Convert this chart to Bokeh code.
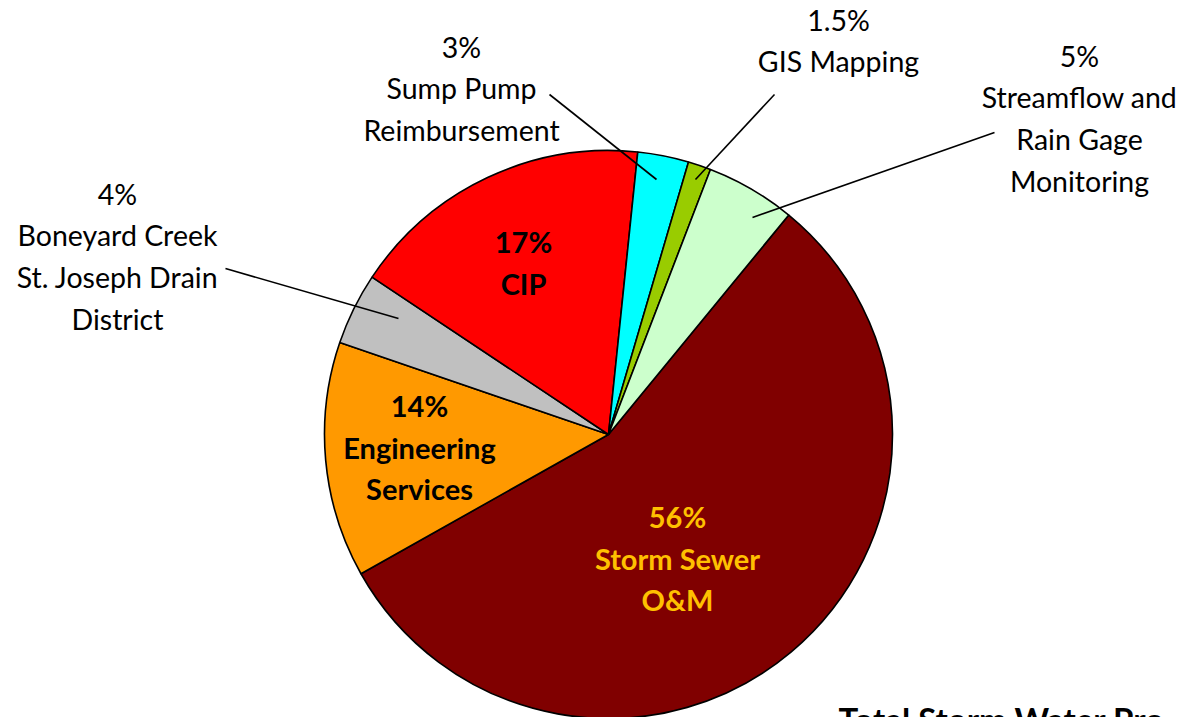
import numpy as np
from bokeh.plotting import figure
from bokeh.models import Range1d, ColumnDataSource
from bokeh.core.properties import value
from bokeh.embed import file_html
from bokeh.resources import INLINE

# ---- data (clockwise order) ----
categories = ["Storm Sewer O&M", "Engineering Services",
              "Boneyard Creek St. Joseph Drain District", "CIP",
              "Sump Pump Reimbursement", "GIS Mapping",
              "Streamflow and Rain Gage Monitoring"]
shares = [55.9, 13.4, 4.1, 17.3, 2.9, 1.3, 5.1]
pct_labels = ["56%", "14%", "4%", "17%", "3%", "1.5%", "5%"]
name_lines = [["Storm Sewer", "O&M"],
              ["Engineering", "Services"],
              ["Boneyard Creek", "St. Joseph Drain", "District"],
              ["CIP"],
              ["Sump Pump", "Reimbursement"],
              ["GIS Mapping"],
              ["Streamflow and", "Rain Gage", "Monitoring"]]
colors = ["#800000", "#FF9900", "#C0C0C0", "#FF0000", "#00FFFF", "#99CC00", "#CCFFCC"]
title_text = "Total Storm Water Pro"

# ---- layout (reference pixel coordinates, y downward) ----
W, H = 1186, 717
CX, CY, R = 608, 434, 284
START_DEG = 50.6
FONT = "Lato"

def fy(y):
    return H - y

p = figure(width=W, height=H, output_backend="svg", toolbar_location=None,
           x_range=Range1d(0, W), y_range=Range1d(0, H),
           min_border=0)
p.axis.visible = False
p.xgrid.visible = False
p.ygrid.visible = False
p.outline_line_color = None
p.background_fill_color = "white"
p.border_fill_color = "white"

vals = np.array(shares, dtype=float)
frac = vals / vals.sum()
ends_cum = np.cumsum(frac)
starts_cum = ends_cum - frac
a0 = np.deg2rad(START_DEG) - 2 * np.pi * starts_cum
a1 = np.deg2rad(START_DEG) - 2 * np.pi * ends_cum
src = ColumnDataSource(dict(start=a1, end=a0, color=colors, cat=categories))
p.wedge(x=CX, y=fy(CY), radius=R, start_angle="start", end_angle="end",
        direction="anticlock", fill_color="color", line_color="black",
        line_width=1.6, source=src)

# label placement: (center x, first line y, bold, color)
label_pos = [(677, 516, True, "#FFC000"),
             (419, 405, True, "black"),
             (117, 193, False, "black"),
             (523, 241, True, "black"),
             (461, 46, False, "black"),
             (838, 19, False, "black"),
             (1079, 55, False, "black")]
LINE = 41.7
for i, (lx, ly, bold, col) in enumerate(label_pos):
    lines = [pct_labels[i]] + name_lines[i]
    xs = [lx] * len(lines)
    ys = [fy(ly + k * LINE) for k in range(len(lines))]
    p.text(x=xs, y=ys, text=lines, text_align="center", text_baseline="middle",
           text_font=value(FONT), text_font_size="29px" if bold else "28.5px",
           text_font_style="bold" if bold else "normal", text_color=col)

# leader lines for outside labels
leaders = [((225, 268), (398, 318)),
           ((549, 94), (656, 179)),
           ((774, 94), (695, 179)),
           ((994, 132), (752, 217))]
p.multi_line(xs=[[a[0], b[0]] for a, b in leaders],
             ys=[[fy(a[1]), fy(b[1])] for a, b in leaders],
             line_color="black", line_width=1.6)

p.text(x=[838], y=[fy(698)], text=[title_text], text_align="left",
       text_baseline="top", text_font=value(FONT), text_font_size="33px",
       text_font_style="bold", text_color="black")

open("out.html", "w").write(file_html(p, INLINE))
